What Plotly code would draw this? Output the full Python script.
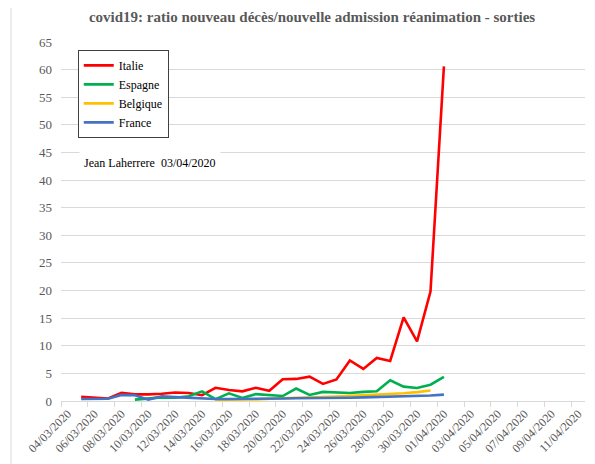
import pandas as pd
import plotly.graph_objects as go

# axe des dates (catégories jour par jour)
DATES = [d.strftime("%d/%m/%Y") for d in pd.date_range("2020-03-04", "2020-04-11")]

# ratio nouveau décès / nouvelle admission réanimation - sorties
ITALIE_X = DATES[1:29]
ITALIE = [0.75, 0.55, 0.45, 1.5, 1.2, 1.2, 1.3, 1.55, 1.45, 1.05, 2.4, 2.0,
          1.75, 2.4, 1.85, 3.95, 4.0, 4.4, 3.1, 3.9, 7.35, 5.8, 7.8, 7.25,
          15.15, 10.8, 19.8, 60.6]

ESPAGNE_X = DATES[5:29]
ESPAGNE = [0.25, 0.4, 0.65, 0.6, 0.85, 1.75, 0.35, 1.4, 0.55, 1.25, 1.1, 0.9,
           2.25, 1.1, 1.65, 1.5, 1.45, 1.65, 1.75, 3.75, 2.6, 2.35, 2.95, 4.35]

BELGIQUE_X = DATES[11:28]
BELGIQUE = [0.2, 0.3, 0.3, 0.3, 0.35, 0.5, 0.6, 0.6, 0.7, 0.8, 0.9, 1.0, 1.2,
            1.25, 1.4, 1.6, 1.9]

FRANCE_X = DATES[1:29]
FRANCE = [0.35, 0.35, 0.4, 1.1, 1.05, 0.25, 0.85, 0.7, 0.6, 0.4, 0.35, 0.35,
          0.35, 0.4, 0.4, 0.45, 0.5, 0.5, 0.55, 0.6, 0.6, 0.65, 0.7, 0.75, 0.8,
          0.9, 1.0, 1.15]

SERIES = [
    ("Italie", ITALIE_X, ITALIE, "#FF0000"),
    ("Espagne", ESPAGNE_X, ESPAGNE, "#00B050"),
    ("Belgique", BELGIQUE_X, BELGIQUE, "#FFC000"),
    ("France", FRANCE_X, FRANCE, "#4472C4"),
]

SERIF = "Liberation Serif"
GRIS = "#595959"
GRILLE = "#D9D9D9"

fig = go.Figure()
for name, xs, ys, color in SERIES:
    fig.add_trace(
        go.Scatter(
            x=xs,
            y=ys,
            name=name,
            mode="lines",
            line=dict(color=color, width=2.6),
        )
    )

# la page ajoute une marge de 8 px : figure un peu plus petite que la fenêtre
fig.update_layout(
    width=587,
    height=456,
    paper_bgcolor="white",
    plot_bgcolor="white",
    margin=dict(l=53, r=10, t=34, b=63, autoexpand=False),
    title=dict(
        text="<b>covid19: ratio nouveau décès/nouvelle admission réanimation - sorties</b>",
        x=0.518,
        xanchor="center",
        y=0.981,
        yanchor="middle",
        font=dict(family=SERIF, size=15, color=GRIS),
    ),
    legend=dict(
        x=0.032,
        y=0.978,
        xanchor="left",
        yanchor="top",
        bgcolor="white",
        bordercolor="#404040",
        borderwidth=1,
        font=dict(family=SERIF, size=12, color="black"),
        itemwidth=30,
        tracegroupgap=0,
    ),
    annotations=[
        dict(
            text="Jean Laherrere\u00a0 03/04/2020",
            xref="paper",
            yref="paper",
            x=0.034,
            y=0.663,
            xanchor="left",
            yanchor="middle",
            showarrow=False,
            bgcolor="white",
            borderpad=4,
            font=dict(family=SERIF, size=12, color="black"),
        )
    ],
    shapes=[
        # cadre gris de la zone graphique
        dict(
            type="rect",
            xref="paper",
            yref="paper",
            x0=-0.0954,
            x1=1.05,
            y0=-0.3,
            y1=1.0975,
            line=dict(color=GRILLE, width=1),
            layer="below",
        )
    ],
)

fig.update_xaxes(
    type="category",
    categoryorder="array",
    categoryarray=DATES,
    range=[-0.5, len(DATES) - 0.5],
    tickmode="linear",
    tick0=0,
    dtick=2,
    tickson="boundaries",
    tickangle=-45,
    ticks="outside",
    ticklen=5,
    tickcolor=GRILLE,
    showline=True,
    linecolor=GRILLE,
    linewidth=1,
    showgrid=False,
    automargin=False,
    tickfont=dict(family=SERIF, size=12, color=GRIS),
)
fig.update_yaxes(
    range=[0, 65],
    dtick=5,
    showgrid=True,
    gridcolor=GRILLE,
    gridwidth=1,
    zeroline=False,
    showline=False,
    ticks="",
    ticklabelstandoff=8,
    automargin=False,
    tickfont=dict(family=SERIF, size=13, color=GRIS),
)

fig.write_html("out.html")
